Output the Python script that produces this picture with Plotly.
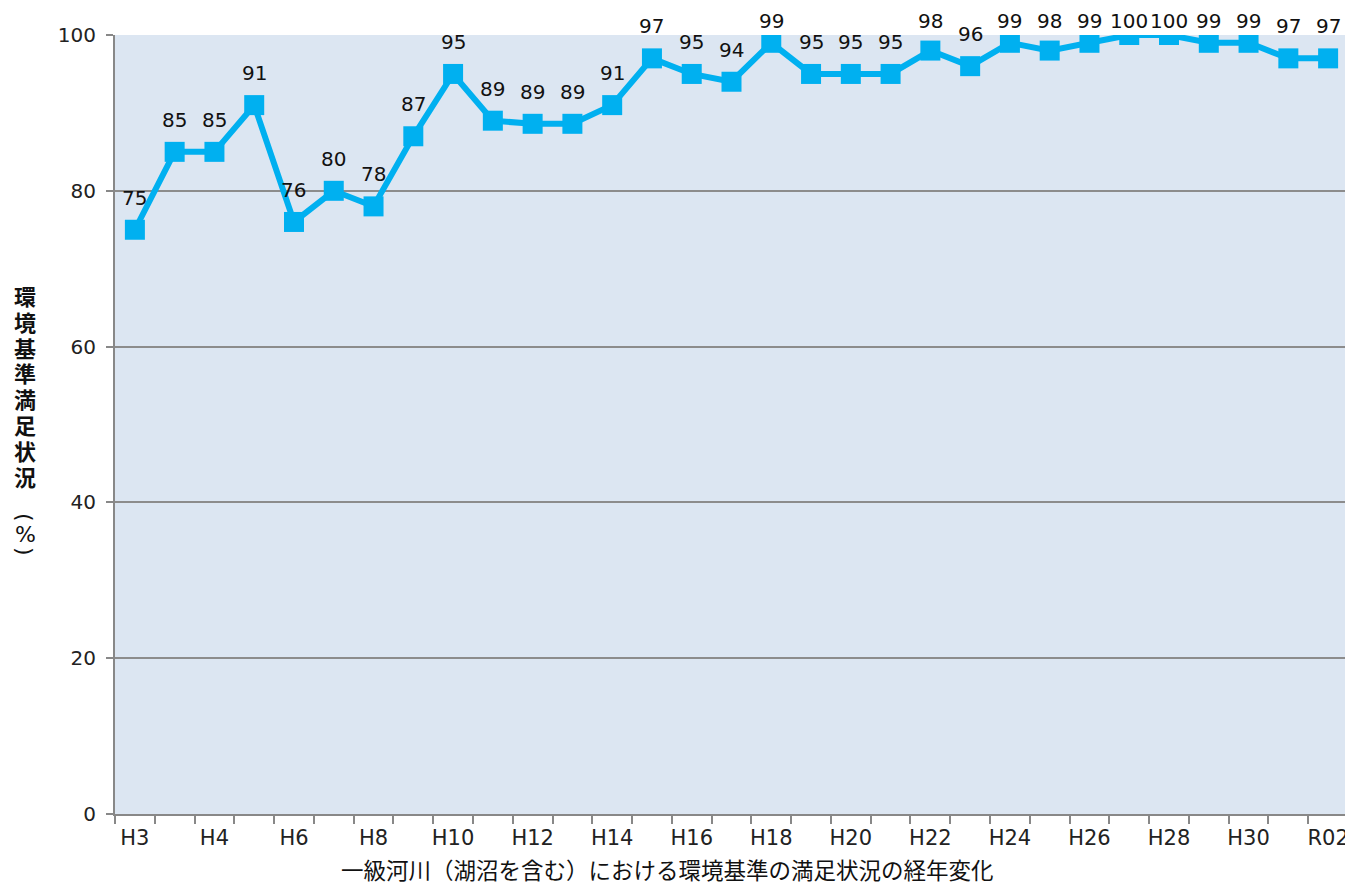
import plotly.graph_objects as go

labels = ["H3", "", "H4", "H5", "H6", "H7", "H8", "H9", "H10", "H11", "H12", "H13", "H14", "H15",
          "H16", "H17", "H18", "H19", "H20", "H21", "H22", "H23", "H24", "H25", "H26", "H27",
          "H28", "H29", "H30", "R01", "R02"]
shown_labels = ["H3", "H4", "H6", "H8", "H10", "H12", "H14", "H16", "H18", "H20", "H22",
                "H24", "H26", "H28", "H30", "R02"]
values = [75, 85, 85, 91, 76, 80, 78, 87, 95, 89, 88.6, 88.6, 91, 97, 95, 94, 99, 95, 95, 95,
          98, 96, 99, 98, 99, 100, 100, 99, 99, 97, 97]
y_ticks = [0, 20, 40, 60, 80, 100]
y_title_chars = list("環境基準満足状況")
y_title_unit = ["(", "%", ")"]
x_title = "一級河川（湖沼を含む）における環境基準の満足状況の経年変化"

xs = list(range(len(values)))
tickvals = [i for i, l in enumerate(labels) if l in shown_labels]
ticktext = [labels[i] for i in tickvals]

jp_font = "Noto Sans CJK JP, sans-serif"
num_font = "DejaVu Sans, sans-serif"
blue = "#00B0F0"

# page body has an 8px margin; figure is laid out relative to that origin
W, H = 1340, 876
L, T, R, B = 107, 27, 0, 70
pw, ph = W - L - R, H - T - B
Y_MAX = 100
px_per_unit = ph / Y_MAX

fig = go.Figure()
fig.add_trace(go.Scatter(
    x=xs, y=values, mode="lines+markers",
    line=dict(color=blue, width=6),
    marker=dict(symbol="square", size=20, color=blue),
    hoverinfo="skip", showlegend=False,
))

annotations = []
for x, v in zip(xs, values):
    shift = min(32, (Y_MAX - v) * px_per_unit + 14)
    annotations.append(dict(
        x=x, y=v, xref="x", yref="y", text=f"{round(v)}", showarrow=False,
        yshift=shift, font=dict(size=20, color="#111111", family=num_font),
    ))

def paper_pt(px, py):
    return (px - L) / pw, (H - B - py) / ph

# vertical (stacked) y-axis title
title_x = 17
first_y, step = 287, 25.8
for i, ch in enumerate(y_title_chars):
    px_, py_ = paper_pt(title_x, first_y + i * step)
    annotations.append(dict(
        x=px_, y=py_, xref="paper", yref="paper", text=f"<b>{ch}</b>", showarrow=False,
        xanchor="center", yanchor="middle",
        font=dict(size=22, color="#111111", family=jp_font),
    ))
unit_y = [509, 526, 543]
for ch, uy in zip(y_title_unit, unit_y):
    px_, py_ = paper_pt(title_x, uy)
    annotations.append(dict(
        x=px_, y=py_, xref="paper", yref="paper", text=ch, showarrow=False,
        xanchor="center", yanchor="middle",
        textangle=90 if ch in "()" else 0,
        font=dict(size=22, color="#111111", family=num_font),
    ))

bx_, by_ = paper_pt(659, 861)
annotations.append(dict(
    x=bx_, y=by_, xref="paper", yref="paper",
    text=x_title, showarrow=False,
    xanchor="center", yanchor="middle",
    font=dict(size=22.5, color="#111111", family=jp_font),
))

fig.update_layout(
    width=W, height=H,
    margin=dict(l=L, r=R, t=T, b=B, autoexpand=False),
    paper_bgcolor="white",
    plot_bgcolor="#DCE6F2",
    font=dict(family=num_font, color="#222222"),
    annotations=annotations,
    xaxis=dict(
        range=[-0.5, len(values) - 0.5],
        tickmode="array", tickvals=tickvals, ticktext=ticktext,
        ticks="", showgrid=False, zeroline=False,
        showline=True, linecolor="#888888", linewidth=2,
        tickfont=dict(size=21, color="#222222", family=num_font),
        ticklabelstandoff=4, ticklabeloverflow="allow",
        minor=dict(ticks="outside", tick0=-0.5, dtick=1, ticklen=8,
                   tickcolor="#888888", tickwidth=2, showgrid=False),
    ),
    yaxis=dict(
        range=[0, Y_MAX], tickmode="array", tickvals=y_ticks,
        ticks="outside", ticklen=7, tickcolor="#888888", tickwidth=2,
        showgrid=True, gridcolor="#8C8C8C", gridwidth=1.5,
        zeroline=False, showline=True, linecolor="#888888", linewidth=2,
        tickfont=dict(size=20, color="#222222", family=num_font),
        ticklabelstandoff=6,
    ),
)

fig.write_html("out.html")
